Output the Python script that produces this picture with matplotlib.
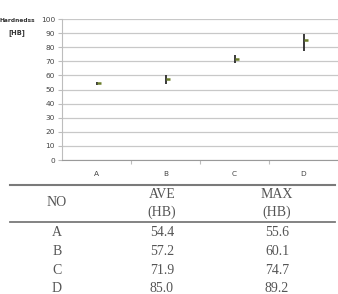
import matplotlib
matplotlib.use("Agg")
import matplotlib.pyplot as plt
from matplotlib.lines import Line2D
from matplotlib import markers

categories = ["A", "B", "C", "D"]
ave_hb = [54.4, 57.2, 71.9, 85.0]
max_hb = [55.6, 60.1, 74.7, 89.2]
min_hb = [52.9, 54.0, 68.8, 77.0]
yticks = list(range(0, 101, 10))

W, H = 338, 294
fig = plt.figure(figsize=(W / 100, H / 100), dpi=100)

ax = fig.add_axes([62 / W, 1 - 160 / H, 276 / W, 141 / H])
x = list(range(len(categories)))
ax.set_xlim(-0.5, len(categories) - 0.5)
ax.set_ylim(0, 100)
ax.set_yticks(yticks)
ax.set_xticks(x)
ax.set_xticklabels(categories)
ax.set_xticks([i + 0.5 for i in x[:-1]], minor=True)
ax.grid(axis="y", color="#c8c8c8", lw=0.9)
ax.set_axisbelow(True)
for s in ["top", "right"]:
    ax.spines[s].set_visible(False)
ax.spines["left"].set_color("#bdbdbd")
ax.spines["bottom"].set_color("#9a9a9a")
ax.tick_params(axis="y", labelsize=5.3, colors="#bdbdbd", labelcolor="#444444",
               length=3, width=0.8, pad=2)
ax.tick_params(axis="x", which="major", length=0, labelsize=5.3,
               labelcolor="#444444", pad=8)
ax.tick_params(axis="x", which="minor", length=3, width=0.8, color="#bdbdbd")

ax.vlines(x, min_hb, max_hb, color="#2b2b2b", lw=1.3)
ax.plot(x, ave_hb, ls="none", marker=markers.TICKRIGHT, markersize=3.2,
        mew=1.8, color="#6b7d2a")

fig.text(17 / W, 1 - 20 / H, "Hardnedss", fontsize=4.2, fontweight="bold",
         color="#333333", ha="center", va="center")
fig.text(17 / W, 1 - 33 / H, "[HB]", fontsize=4.8, fontweight="bold",
         color="#333333", ha="center", va="center")

# table
def hline(y, x0, x1, lw, c):
    fig.add_artist(Line2D([x0 / W, x1 / W], [1 - y / H, 1 - y / H],
                          transform=fig.transFigure, lw=lw, color=c))

hline(184.5, 10, 335, 1.5, "#7a7a7a")
hline(222, 10, 335, 1.3, "#7a7a7a")

tc = "#555555"
tfont = dict(family="Liberation Serif", fontsize=10, color=tc,
             ha="center", va="center")
col_x = [57, 162, 277]
fig.text(col_x[0] / W, 1 - 203 / H, "NO", **tfont)
fig.text(col_x[1] / W, 1 - 195 / H, "AVE", **tfont)
fig.text(col_x[1] / W, 1 - 212 / H, "(HB)", **tfont)
fig.text(col_x[2] / W, 1 - 195 / H, "MAX", **tfont)
fig.text(col_x[2] / W, 1 - 212 / H, "(HB)", **tfont)
row_y = [233, 251.5, 270, 288]
for cat, a, m, ry in zip(categories, ave_hb, max_hb, row_y):
    fig.text(col_x[0] / W, 1 - ry / H, cat, **tfont)
    fig.text(col_x[1] / W, 1 - ry / H, f"{a:.1f}", **tfont)
    fig.text(col_x[2] / W, 1 - ry / H, f"{m:.1f}", **tfont)

fig.savefig("out.png", dpi=100)
